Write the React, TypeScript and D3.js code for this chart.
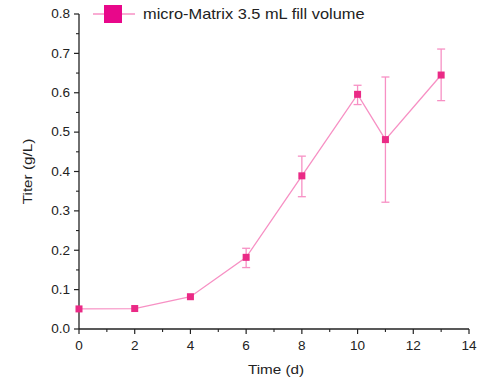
import React from "react";
import * as d3 from "d3";

const times = [0, 2, 4, 6, 8, 10, 11, 13];
const titers = [0.051, 0.052, 0.082, 0.182, 0.389, 0.596, 0.481, 0.645];
const errLow = [0.051, 0.052, 0.082, 0.156, 0.336, 0.570, 0.322, 0.580];
const errHigh = [0.051, 0.052, 0.082, 0.205, 0.439, 0.619, 0.640, 0.711];
const xTicks = [0, 2, 4, 6, 8, 10, 12, 14];
const yTicks = [0, 0.1, 0.2, 0.3, 0.4, 0.5, 0.6, 0.7, 0.8];
const seriesName = "micro-Matrix 3.5 mL fill volume";

const W = 478, H = 384;
const left = 79, right = 469, top = 14, bottom = 329;
const font = "'Liberation Sans', Arial, sans-serif";
const lineColor = "#f790c4";
const markColor = "#ea2a86";
const SX = 1.13;

function T(props: { x: number; y: number; anchor?: string; size: number; rotate?: number; children: React.ReactNode }) {
  const { x, y, anchor = "start", size, rotate = 0, children } = props;
  return (
    <g transform={`translate(${x},${y}) rotate(${rotate}) scale(${SX},1)`}>
      <text x={0} y={0} textAnchor={anchor} fontFamily={font} fontSize={size} fill="#222">
        {children}
      </text>
    </g>
  );
}

export default function App() {
  const x = d3.scaleLinear().domain([0, 14]).range([left, right]);
  const y = d3.scaleLinear().domain([0, 0.8]).range([bottom, top]);
  const line = d3.line<number>().x((_, i) => x(times[i])).y((d) => y(d));
  const xMinor = d3.range(1, 14, 2);
  const yMinor = d3.range(0.05, 0.8, 0.1);
  const hasErr = (i: number) => errHigh[i] - errLow[i] > 0.001;
  return (
    <svg width={W} height={H} style={{ position: "absolute", left: 0, top: 0 }}>
      <rect width={W} height={H} fill="#fff" />
      <line x1={left} x2={left} y1={top} y2={bottom} stroke="#222" strokeWidth={1.3} />
      <line x1={left} x2={right} y1={bottom} y2={bottom} stroke="#222" strokeWidth={1.3} />
      {yTicks.map((t) => (
        <g key={"y" + t}>
          <line x1={left - 5} x2={left} y1={y(t)} y2={y(t)} stroke="#222" strokeWidth={1.2} />
          <T x={left - 9} y={y(t) + 4.3} anchor="end" size={12}>
            {t.toFixed(1)}
          </T>
        </g>
      ))}
      {yMinor.map((t) => (
        <line key={"ym" + t} x1={left - 3} x2={left} y1={y(t)} y2={y(t)} stroke="#222" strokeWidth={1.1} />
      ))}
      {xTicks.map((t) => (
        <g key={"x" + t}>
          <line x1={x(t)} x2={x(t)} y1={bottom} y2={bottom + 5} stroke="#222" strokeWidth={1.2} />
          <T x={x(t)} y={bottom + 21} anchor="middle" size={12}>
            {t}
          </T>
        </g>
      ))}
      {xMinor.map((t) => (
        <line key={"xm" + t} x1={x(t)} x2={x(t)} y1={bottom} y2={bottom + 3} stroke="#222" strokeWidth={1.1} />
      ))}
      <T x={276} y={374} anchor="middle" size={13.5}>
        Time (d)
      </T>
      <T x={32} y={(top + bottom) / 2} anchor="middle" size={13.5} rotate={-90}>
        Titer (g/L)
      </T>
      <path d={line(titers) || ""} fill="none" stroke={lineColor} strokeWidth={1.3} />
      {times.map((t, i) =>
        hasErr(i) ? (
          <g key={"e" + i} stroke={lineColor} strokeWidth={1.3}>
            <line x1={x(t)} x2={x(t)} y1={y(errLow[i])} y2={y(errHigh[i])} />
            <line x1={x(t) - 4} x2={x(t) + 4} y1={y(errLow[i])} y2={y(errLow[i])} />
            <line x1={x(t) - 4} x2={x(t) + 4} y1={y(errHigh[i])} y2={y(errHigh[i])} />
          </g>
        ) : null
      )}
      {times.map((t, i) => (
        <rect key={"m" + i} x={x(t) - 3.5} y={y(titers[i]) - 3.5} width={7} height={7} fill={markColor} />
      ))}
      <line x1={93} x2={135} y1={14} y2={14} stroke={lineColor} strokeWidth={1.3} />
      <rect x={104} y={5} width={18} height={18} fill="#e8078a" />
      <T x={143} y={19} size={14.5}>
        {seriesName}
      </T>
    </svg>
  );
}
